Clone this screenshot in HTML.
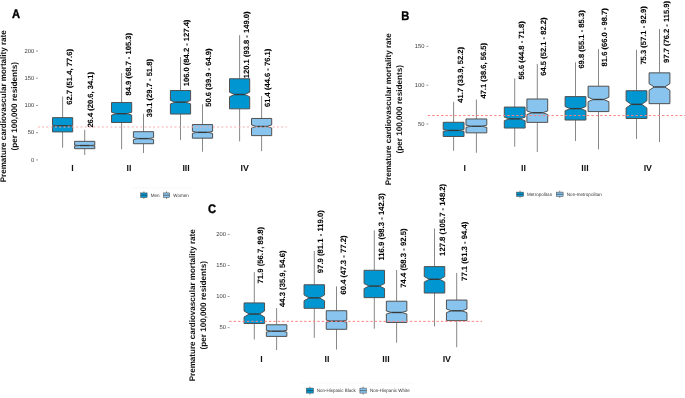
<!DOCTYPE html>
<html><head><meta charset="utf-8"><style>
html,body{margin:0;padding:0;background:#fff;}
body{width:685px;height:398px;overflow:hidden;}
svg{display:block;will-change:transform;}
text{font-family:"Liberation Sans",sans-serif;text-rendering:geometricPrecision;}
</style></head><body>
<svg width="685" height="398" viewBox="0 0 685 398">
<rect width="685" height="398" fill="#fff"/>
<g id="pA">
<line x1="132.3" y1="187.8" x2="191.3" y2="187.8" stroke="#f4f4f4" stroke-width="0.6"/>
<line x1="36.1" y1="159.9" x2="38" y2="159.9" stroke="#555" stroke-width="0.6"/>
<text x="34.2" y="161.7" font-size="5.8" fill="#3a3a3a" text-anchor="end">0</text>
<line x1="36.1" y1="132.68" x2="38" y2="132.68" stroke="#555" stroke-width="0.6"/>
<text x="34.2" y="134.48" font-size="5.8" fill="#3a3a3a" text-anchor="end">50</text>
<line x1="36.1" y1="105.45" x2="38" y2="105.45" stroke="#555" stroke-width="0.6"/>
<text x="34.2" y="107.25" font-size="5.8" fill="#3a3a3a" text-anchor="end">100</text>
<line x1="36.1" y1="78.23" x2="38" y2="78.23" stroke="#555" stroke-width="0.6"/>
<text x="34.2" y="80.03" font-size="5.8" fill="#3a3a3a" text-anchor="end">150</text>
<line x1="36.1" y1="51" x2="38" y2="51" stroke="#555" stroke-width="0.6"/>
<text x="34.2" y="52.8" font-size="5.8" fill="#3a3a3a" text-anchor="end">200</text>
<line x1="62.6" y1="96.5" x2="62.6" y2="117.65" stroke="#555" stroke-width="0.7"/>
<line x1="62.6" y1="131.91" x2="62.6" y2="147.7" stroke="#555" stroke-width="0.7"/>
<path d="M52.5,117.65 L72.7,117.65 L72.7,125.36 L67.65,125.76 L72.7,126.16 L72.7,131.91 L52.5,131.91 L52.5,126.16 L57.55,125.76 L52.5,125.36 Z" fill="#0096d2" stroke="#505050" stroke-width="1.0" stroke-linejoin="miter"/>
<line x1="57.55" y1="125.76" x2="67.65" y2="125.76" stroke="#383838" stroke-width="1.4"/>
<text transform="translate(71.5,104.8) rotate(-90)" font-size="7.6" font-weight="bold" fill="#000" stroke="#000" stroke-width="0.08">62.7 (51.4, 77.6)</text>
<line x1="84.7" y1="129.8" x2="84.7" y2="141.33" stroke="#555" stroke-width="0.7"/>
<line x1="84.7" y1="148.68" x2="84.7" y2="155" stroke="#555" stroke-width="0.7"/>
<path d="M74.6,141.33 L94.8,141.33 L94.8,145.13 L89.75,145.53 L94.8,145.93 L94.8,148.68 L74.6,148.68 L74.6,145.93 L79.65,145.53 L74.6,145.13 Z" fill="#88c4ed" stroke="#505050" stroke-width="1.0" stroke-linejoin="miter"/>
<line x1="79.65" y1="145.53" x2="89.75" y2="145.53" stroke="#383838" stroke-width="1.4"/>
<text transform="translate(93.1,127.6) rotate(-90)" font-size="7.6" font-weight="bold" fill="#000" stroke="#000" stroke-width="0.08">26.4 (20.6, 34.1)</text>
<line x1="121.6" y1="73.1" x2="121.6" y2="102.56" stroke="#555" stroke-width="0.7"/>
<line x1="121.6" y1="122.49" x2="121.6" y2="149.2" stroke="#555" stroke-width="0.7"/>
<path d="M111.5,102.56 L131.7,102.56 L131.7,112.27 L126.65,113.67 L131.7,115.07 L131.7,122.49 L111.5,122.49 L111.5,115.07 L116.55,113.67 L111.5,112.27 Z" fill="#0096d2" stroke="#505050" stroke-width="1.0" stroke-linejoin="miter"/>
<line x1="116.55" y1="113.67" x2="126.65" y2="113.67" stroke="#383838" stroke-width="1.4"/>
<text transform="translate(130.5,95.5) rotate(-90)" font-size="7.6" font-weight="bold" fill="#000" stroke="#000" stroke-width="0.08">84.9 (68.7 - 105.3)</text>
<line x1="143.5" y1="113.8" x2="143.5" y2="131.69" stroke="#555" stroke-width="0.7"/>
<line x1="143.5" y1="143.73" x2="143.5" y2="153" stroke="#555" stroke-width="0.7"/>
<path d="M133.4,131.69 L153.6,131.69 L153.6,137.61 L148.55,138.61 L153.6,139.61 L153.6,143.73 L133.4,143.73 L133.4,139.61 L138.45,138.61 L133.4,137.61 Z" fill="#88c4ed" stroke="#505050" stroke-width="1.0" stroke-linejoin="miter"/>
<line x1="138.45" y1="138.61" x2="148.55" y2="138.61" stroke="#383838" stroke-width="1.4"/>
<text transform="translate(151.9,117.3) rotate(-90)" font-size="7.6" font-weight="bold" fill="#000" stroke="#000" stroke-width="0.08">39.1 (29.7 - 51.8)</text>
<line x1="180.5" y1="57" x2="180.5" y2="90.53" stroke="#555" stroke-width="0.7"/>
<line x1="180.5" y1="114.05" x2="180.5" y2="139.9" stroke="#555" stroke-width="0.7"/>
<path d="M170.4,90.53 L190.6,90.53 L190.6,100.48 L185.55,102.18 L190.6,103.88 L190.6,114.05 L170.4,114.05 L170.4,103.88 L175.45,102.18 L170.4,100.48 Z" fill="#0096d2" stroke="#505050" stroke-width="1.0" stroke-linejoin="miter"/>
<line x1="175.45" y1="102.18" x2="185.55" y2="102.18" stroke="#383838" stroke-width="1.4"/>
<text transform="translate(189.4,86.3) rotate(-90)" font-size="7.6" font-weight="bold" fill="#000" stroke="#000" stroke-width="0.08">106.0 (84.2 - 127.4)</text>
<line x1="202.5" y1="104.2" x2="202.5" y2="124.56" stroke="#555" stroke-width="0.7"/>
<line x1="202.5" y1="138.17" x2="202.5" y2="151.7" stroke="#555" stroke-width="0.7"/>
<path d="M192.4,124.56 L212.6,124.56 L212.6,131.35 L207.55,132.35 L212.6,133.35 L212.6,138.17 L192.4,138.17 L192.4,133.35 L197.45,132.35 L192.4,131.35 Z" fill="#88c4ed" stroke="#505050" stroke-width="1.0" stroke-linejoin="miter"/>
<line x1="197.45" y1="132.35" x2="207.55" y2="132.35" stroke="#383838" stroke-width="1.4"/>
<text transform="translate(210.9,106.7) rotate(-90)" font-size="7.6" font-weight="bold" fill="#000" stroke="#000" stroke-width="0.08">50.6 (39.9 - 64.9)</text>
<line x1="239.6" y1="35.2" x2="239.6" y2="78.77" stroke="#555" stroke-width="0.7"/>
<line x1="239.6" y1="108.83" x2="239.6" y2="141.4" stroke="#555" stroke-width="0.7"/>
<path d="M229.5,78.77 L249.7,78.77 L249.7,92.21 L244.65,94.51 L249.7,96.81 L249.7,108.83 L229.5,108.83 L229.5,96.81 L234.55,94.51 L229.5,92.21 Z" fill="#0096d2" stroke="#505050" stroke-width="1.0" stroke-linejoin="miter"/>
<line x1="234.55" y1="94.51" x2="244.65" y2="94.51" stroke="#383838" stroke-width="1.4"/>
<text transform="translate(249.1,78.2) rotate(-90)" font-size="7.6" font-weight="bold" fill="#000" stroke="#000" stroke-width="0.08">120.1 (93.8 - 149.0)</text>
<line x1="261.6" y1="96.1" x2="261.6" y2="118.46" stroke="#555" stroke-width="0.7"/>
<line x1="261.6" y1="135.62" x2="261.6" y2="151.2" stroke="#555" stroke-width="0.7"/>
<path d="M251.5,118.46 L271.7,118.46 L271.7,124.97 L266.65,126.47 L271.7,127.97 L271.7,135.62 L251.5,135.62 L251.5,127.97 L256.55,126.47 L251.5,124.97 Z" fill="#88c4ed" stroke="#505050" stroke-width="1.0" stroke-linejoin="miter"/>
<line x1="256.55" y1="126.47" x2="266.65" y2="126.47" stroke="#383838" stroke-width="1.4"/>
<text transform="translate(270,107) rotate(-90)" font-size="7.6" font-weight="bold" fill="#000" stroke="#000" stroke-width="0.08">61.4 (44.6 - 76.1)</text>
<line x1="37.85" y1="127" x2="286.7" y2="127" stroke="#f6abab" stroke-width="1.2" stroke-dasharray="1.9,2.37"/>
<text x="72.4" y="170.6" font-size="8.8" font-weight="bold" fill="#111" text-anchor="middle">I</text>
<text x="129" y="170.6" font-size="8.8" font-weight="bold" fill="#111" text-anchor="middle">II</text>
<text x="186.1" y="170.6" font-size="8.8" font-weight="bold" fill="#111" text-anchor="middle">III</text>
<text x="244.7" y="170.6" font-size="8.8" font-weight="bold" fill="#111" text-anchor="middle">IV</text>
<text transform="translate(6.3,106.3) rotate(-90)" font-size="8.1" font-weight="bold" fill="#111" text-anchor="middle" textLength="152" lengthAdjust="spacingAndGlyphs">Premature cardiovascular mortality rate</text>
<text transform="translate(17.3,106.3) rotate(-90)" font-size="8.1" font-weight="bold" fill="#111" text-anchor="middle" textLength="88.5" lengthAdjust="spacingAndGlyphs">(per 100,000 residents)</text>
<text transform="translate(12,17.7) scale(0.9,1)" font-size="12.4" font-weight="bold" fill="#000" stroke="#000" stroke-width="0.35">A</text>
<line x1="143.9" y1="191.4" x2="143.9" y2="199" stroke="#444" stroke-width="0.6"/>
<rect x="140.7" y="192.9" width="6.4" height="4.6" fill="#0096d2" stroke="#444" stroke-width="0.5"/>
<line x1="140.7" y1="195.2" x2="147.1" y2="195.2" stroke="#333" stroke-width="0.6"/>
<line x1="166.55" y1="191.4" x2="166.55" y2="199" stroke="#444" stroke-width="0.6"/>
<rect x="163.5" y="192.9" width="6.1" height="4.6" fill="#88c4ed" stroke="#444" stroke-width="0.5"/>
<line x1="163.5" y1="195.2" x2="169.6" y2="195.2" stroke="#333" stroke-width="0.6"/>
<text x="150.7" y="196.8" font-size="4.7" fill="#333" textLength="8.9" lengthAdjust="spacingAndGlyphs">Men</text>
<text x="173.3" y="196.8" font-size="4.7" fill="#333" textLength="15.4" lengthAdjust="spacingAndGlyphs">Women</text>
</g>
<g id="pB">
<line x1="426.4" y1="124" x2="428.3" y2="124" stroke="#555" stroke-width="0.6"/>
<text x="424.5" y="125.8" font-size="5.8" fill="#3a3a3a" text-anchor="end">50</text>
<line x1="426.4" y1="85.2" x2="428.3" y2="85.2" stroke="#555" stroke-width="0.6"/>
<text x="424.5" y="87" font-size="5.8" fill="#3a3a3a" text-anchor="end">100</text>
<line x1="426.4" y1="46.4" x2="428.3" y2="46.4" stroke="#555" stroke-width="0.6"/>
<text x="424.5" y="48.2" font-size="5.8" fill="#3a3a3a" text-anchor="end">150</text>
<line x1="453.6" y1="101.8" x2="453.6" y2="122.29" stroke="#555" stroke-width="0.7"/>
<line x1="453.6" y1="136.49" x2="453.6" y2="150.8" stroke="#555" stroke-width="0.7"/>
<path d="M443.2,122.29 L464,122.29 L464,129.54 L458.8,130.44 L464,131.34 L464,136.49 L443.2,136.49 L443.2,131.34 L448.4,130.44 L443.2,129.54 Z" fill="#0096d2" stroke="#505050" stroke-width="1.0" stroke-linejoin="miter"/>
<line x1="448.4" y1="130.44" x2="458.8" y2="130.44" stroke="#383838" stroke-width="1.4"/>
<text transform="translate(463,102.7) rotate(-90)" font-size="7.6" font-weight="bold" fill="#000" stroke="#000" stroke-width="0.08">41.7 (33.9, 52.2)</text>
<line x1="476.4" y1="99.5" x2="476.4" y2="118.96" stroke="#555" stroke-width="0.7"/>
<line x1="476.4" y1="132.85" x2="476.4" y2="152.8" stroke="#555" stroke-width="0.7"/>
<path d="M466,118.96 L486.8,118.96 L486.8,125.15 L481.6,126.25 L486.8,127.35 L486.8,132.85 L466,132.85 L466,127.35 L471.2,126.25 L466,125.15 Z" fill="#88c4ed" stroke="#505050" stroke-width="1.0" stroke-linejoin="miter"/>
<line x1="471.2" y1="126.25" x2="481.6" y2="126.25" stroke="#383838" stroke-width="1.4"/>
<text transform="translate(485.8,98.6) rotate(-90)" font-size="7.6" font-weight="bold" fill="#000" stroke="#000" stroke-width="0.08">47.1 (38.6, 56.5)</text>
<line x1="514.7" y1="78.4" x2="514.7" y2="107.08" stroke="#555" stroke-width="0.7"/>
<line x1="514.7" y1="128.04" x2="514.7" y2="146.7" stroke="#555" stroke-width="0.7"/>
<path d="M504.3,107.08 L525.1,107.08 L525.1,117.13 L519.9,118.88 L525.1,120.63 L525.1,128.04 L504.3,128.04 L504.3,120.63 L509.5,118.88 L504.3,117.13 Z" fill="#0096d2" stroke="#505050" stroke-width="1.0" stroke-linejoin="miter"/>
<line x1="509.5" y1="118.88" x2="519.9" y2="118.88" stroke="#383838" stroke-width="1.4"/>
<text transform="translate(523.9,79.6) rotate(-90)" font-size="7.6" font-weight="bold" fill="#000" stroke="#000" stroke-width="0.08">56.6 (44.8 - 71.8)</text>
<line x1="537.3" y1="64.1" x2="537.3" y2="99.01" stroke="#555" stroke-width="0.7"/>
<line x1="537.3" y1="122.37" x2="537.3" y2="152" stroke="#555" stroke-width="0.7"/>
<path d="M526.9,99.01 L547.7,99.01 L547.7,111 L542.5,112.75 L547.7,114.5 L547.7,122.37 L526.9,122.37 L526.9,114.5 L532.1,112.75 L526.9,111 Z" fill="#88c4ed" stroke="#505050" stroke-width="1.0" stroke-linejoin="miter"/>
<line x1="532.1" y1="112.75" x2="542.5" y2="112.75" stroke="#383838" stroke-width="1.4"/>
<text transform="translate(546.2,75.7) rotate(-90)" font-size="7.6" font-weight="bold" fill="#000" stroke="#000" stroke-width="0.08">64.5 (52.1 - 82.2)</text>
<line x1="575.5" y1="62.3" x2="575.5" y2="96.61" stroke="#555" stroke-width="0.7"/>
<line x1="575.5" y1="120.04" x2="575.5" y2="141" stroke="#555" stroke-width="0.7"/>
<path d="M565.1,96.61 L585.9,96.61 L585.9,106.54 L580.7,108.64 L585.9,110.74 L585.9,120.04 L565.1,120.04 L565.1,110.74 L570.3,108.64 L565.1,106.54 Z" fill="#0096d2" stroke="#505050" stroke-width="1.0" stroke-linejoin="miter"/>
<line x1="570.3" y1="108.64" x2="580.7" y2="108.64" stroke="#383838" stroke-width="1.4"/>
<text transform="translate(584.4,68.6) rotate(-90)" font-size="7.6" font-weight="bold" fill="#000" stroke="#000" stroke-width="0.08">69.8 (55.1 - 85.3)</text>
<line x1="598.5" y1="49.1" x2="598.5" y2="86.21" stroke="#555" stroke-width="0.7"/>
<line x1="598.5" y1="111.58" x2="598.5" y2="149.3" stroke="#555" stroke-width="0.7"/>
<path d="M588.1,86.21 L608.9,86.21 L608.9,97.23 L603.7,99.48 L608.9,101.73 L608.9,111.58 L588.1,111.58 L588.1,101.73 L593.3,99.48 L588.1,97.23 Z" fill="#88c4ed" stroke="#505050" stroke-width="1.0" stroke-linejoin="miter"/>
<line x1="593.3" y1="99.48" x2="603.7" y2="99.48" stroke="#383838" stroke-width="1.4"/>
<text transform="translate(607.4,66.4) rotate(-90)" font-size="7.6" font-weight="bold" fill="#000" stroke="#000" stroke-width="0.08">81.6 (66.0 - 98.7)</text>
<line x1="636.5" y1="49.8" x2="636.5" y2="90.71" stroke="#555" stroke-width="0.7"/>
<line x1="636.5" y1="118.49" x2="636.5" y2="139" stroke="#555" stroke-width="0.7"/>
<path d="M626.1,90.71 L646.9,90.71 L646.9,100.77 L641.7,104.37 L646.9,107.97 L646.9,118.49 L626.1,118.49 L626.1,107.97 L631.3,104.37 L626.1,100.77 Z" fill="#0096d2" stroke="#505050" stroke-width="1.0" stroke-linejoin="miter"/>
<line x1="631.3" y1="104.37" x2="641.7" y2="104.37" stroke="#383838" stroke-width="1.4"/>
<text transform="translate(645.9,64.6) rotate(-90)" font-size="7.6" font-weight="bold" fill="#000" stroke="#000" stroke-width="0.08">75.3 (57.1 - 92.9)</text>
<line x1="659.5" y1="29" x2="659.5" y2="72.86" stroke="#555" stroke-width="0.7"/>
<line x1="659.5" y1="103.67" x2="659.5" y2="142" stroke="#555" stroke-width="0.7"/>
<path d="M649.1,72.86 L669.9,72.86 L669.9,83.68 L664.7,86.98 L669.9,90.28 L669.9,103.67 L649.1,103.67 L649.1,90.28 L654.3,86.98 L649.1,83.68 Z" fill="#88c4ed" stroke="#505050" stroke-width="1.0" stroke-linejoin="miter"/>
<line x1="654.3" y1="86.98" x2="664.7" y2="86.98" stroke="#383838" stroke-width="1.4"/>
<text transform="translate(668.9,63) rotate(-90)" font-size="7.6" font-weight="bold" fill="#000" stroke="#000" stroke-width="0.08">97.7 (76.2 - 115.9)</text>
<line x1="427.8" y1="115.55" x2="686" y2="115.55" stroke="#ff8282" stroke-width="1.0" stroke-dasharray="2.4,2.02"/>
<text x="464.7" y="170.8" font-size="8.8" font-weight="bold" fill="#111" text-anchor="middle">I</text>
<text x="523.5" y="170.8" font-size="8.8" font-weight="bold" fill="#111" text-anchor="middle">II</text>
<text x="585" y="170.8" font-size="8.8" font-weight="bold" fill="#111" text-anchor="middle">III</text>
<text x="647.8" y="170.8" font-size="8.8" font-weight="bold" fill="#111" text-anchor="middle">IV</text>
<text transform="translate(391.2,109.3) rotate(-90)" font-size="8.1" font-weight="bold" fill="#111" text-anchor="middle" textLength="152" lengthAdjust="spacingAndGlyphs">Premature cardiovascular mortality rate</text>
<text transform="translate(402.1,109.3) rotate(-90)" font-size="8.1" font-weight="bold" fill="#111" text-anchor="middle" textLength="88.5" lengthAdjust="spacingAndGlyphs">(per 100,000 residents)</text>
<text transform="translate(401.3,19.8) scale(0.9,1)" font-size="12.4" font-weight="bold" fill="#000" stroke="#000" stroke-width="0.35">B</text>
<line x1="520.05" y1="190.6" x2="520.05" y2="197.9" stroke="#444" stroke-width="0.6"/>
<rect x="516.6" y="192.1" width="6.9" height="4.3" fill="#0096d2" stroke="#444" stroke-width="0.5"/>
<line x1="516.6" y1="194.25" x2="523.5" y2="194.25" stroke="#333" stroke-width="0.6"/>
<line x1="559.75" y1="190.6" x2="559.75" y2="197.9" stroke="#444" stroke-width="0.6"/>
<rect x="556.4" y="192.1" width="6.7" height="4.3" fill="#88c4ed" stroke="#444" stroke-width="0.5"/>
<line x1="556.4" y1="194.25" x2="563.1" y2="194.25" stroke="#333" stroke-width="0.6"/>
<text x="527" y="195.9" font-size="4.7" fill="#333" textLength="25.2" lengthAdjust="spacingAndGlyphs">Metropolitan</text>
<text x="566.8" y="195.9" font-size="4.7" fill="#333" textLength="35" lengthAdjust="spacingAndGlyphs">Non-metropolitan</text>
</g>
<g id="pC">
<line x1="300" y1="383.1" x2="414" y2="383.1" stroke="#f4f4f4" stroke-width="0.6"/>
<line x1="227.7" y1="327.63" x2="229.6" y2="327.63" stroke="#555" stroke-width="0.6"/>
<text x="225.9" y="329.44" font-size="5.8" fill="#3a3a3a" text-anchor="end">50</text>
<line x1="227.7" y1="296.57" x2="229.6" y2="296.57" stroke="#555" stroke-width="0.6"/>
<text x="225.9" y="298.37" font-size="5.8" fill="#3a3a3a" text-anchor="end">100</text>
<line x1="227.7" y1="265.5" x2="229.6" y2="265.5" stroke="#555" stroke-width="0.6"/>
<text x="225.9" y="267.31" font-size="5.8" fill="#3a3a3a" text-anchor="end">150</text>
<line x1="227.7" y1="234.44" x2="229.6" y2="234.44" stroke="#555" stroke-width="0.6"/>
<text x="225.9" y="236.24" font-size="5.8" fill="#3a3a3a" text-anchor="end">200</text>
<line x1="254.3" y1="272.2" x2="254.3" y2="302.91" stroke="#555" stroke-width="0.7"/>
<line x1="254.3" y1="323.47" x2="254.3" y2="339.5" stroke="#555" stroke-width="0.7"/>
<path d="M244.05,302.91 L264.55,302.91 L264.55,311.03 L259.43,314.03 L264.55,317.03 L264.55,323.47 L244.05,323.47 L244.05,317.03 L249.18,314.03 L244.05,311.03 Z" fill="#0096d2" stroke="#505050" stroke-width="1.0" stroke-linejoin="miter"/>
<line x1="249.18" y1="314.03" x2="259.43" y2="314.03" stroke="#383838" stroke-width="1.4"/>
<text transform="translate(262.7,283.5) rotate(-90)" font-size="7.72" font-weight="bold" fill="#000" stroke="#000" stroke-width="0.08">71.9 (56.7, 89.8)</text>
<line x1="276.6" y1="308" x2="276.6" y2="324.78" stroke="#555" stroke-width="0.7"/>
<line x1="276.6" y1="336.4" x2="276.6" y2="350" stroke="#555" stroke-width="0.7"/>
<path d="M266.35,324.78 L286.85,324.78 L286.85,330.28 L281.73,331.18 L286.85,332.08 L286.85,336.4 L266.35,336.4 L266.35,332.08 L271.48,331.18 L266.35,330.28 Z" fill="#88c4ed" stroke="#505050" stroke-width="1.0" stroke-linejoin="miter"/>
<line x1="271.48" y1="331.18" x2="281.73" y2="331.18" stroke="#383838" stroke-width="1.4"/>
<text transform="translate(285,307.1) rotate(-90)" font-size="7.72" font-weight="bold" fill="#000" stroke="#000" stroke-width="0.08">44.3 (35.9, 54.6)</text>
<line x1="314.3" y1="250.9" x2="314.3" y2="284.77" stroke="#555" stroke-width="0.7"/>
<line x1="314.3" y1="308.31" x2="314.3" y2="337.9" stroke="#555" stroke-width="0.7"/>
<path d="M304.05,284.77 L324.55,284.77 L324.55,294.97 L319.43,297.87 L324.55,300.77 L324.55,308.31 L304.05,308.31 L304.05,300.77 L309.18,297.87 L304.05,294.97 Z" fill="#0096d2" stroke="#505050" stroke-width="1.0" stroke-linejoin="miter"/>
<line x1="309.18" y1="297.87" x2="319.43" y2="297.87" stroke="#383838" stroke-width="1.4"/>
<text transform="translate(323.2,273.2) rotate(-90)" font-size="7.72" font-weight="bold" fill="#000" stroke="#000" stroke-width="0.08">97.9 (81.1 - 119.0)</text>
<line x1="336.5" y1="286.4" x2="336.5" y2="310.74" stroke="#555" stroke-width="0.7"/>
<line x1="336.5" y1="329.31" x2="336.5" y2="349.6" stroke="#555" stroke-width="0.7"/>
<path d="M326.25,310.74 L346.75,310.74 L346.75,320.17 L341.62,321.17 L346.75,322.17 L346.75,329.31 L326.25,329.31 L326.25,322.17 L331.38,321.17 L326.25,320.17 Z" fill="#88c4ed" stroke="#505050" stroke-width="1.0" stroke-linejoin="miter"/>
<line x1="331.38" y1="321.17" x2="341.62" y2="321.17" stroke="#383838" stroke-width="1.4"/>
<text transform="translate(345.8,294.6) rotate(-90)" font-size="7.72" font-weight="bold" fill="#000" stroke="#000" stroke-width="0.08">60.4 (47.3 - 77.2)</text>
<line x1="374.3" y1="230.3" x2="374.3" y2="270.29" stroke="#555" stroke-width="0.7"/>
<line x1="374.3" y1="297.63" x2="374.3" y2="328.7" stroke="#555" stroke-width="0.7"/>
<path d="M364.05,270.29 L384.55,270.29 L384.55,283.57 L379.43,286.07 L384.55,288.57 L384.55,297.63 L364.05,297.63 L364.05,288.57 L369.18,286.07 L364.05,283.57 Z" fill="#0096d2" stroke="#505050" stroke-width="1.0" stroke-linejoin="miter"/>
<line x1="369.18" y1="286.07" x2="379.43" y2="286.07" stroke="#383838" stroke-width="1.4"/>
<text transform="translate(384,260.6) rotate(-90)" font-size="7.72" font-weight="bold" fill="#000" stroke="#000" stroke-width="0.08">116.9 (98.3 - 142.3)</text>
<line x1="396.6" y1="270" x2="396.6" y2="301.23" stroke="#555" stroke-width="0.7"/>
<line x1="396.6" y1="322.48" x2="396.6" y2="342.7" stroke="#555" stroke-width="0.7"/>
<path d="M386.35,301.23 L406.85,301.23 L406.85,310.98 L401.73,312.48 L406.85,313.98 L406.85,322.48 L386.35,322.48 L386.35,313.98 L391.48,312.48 L386.35,310.98 Z" fill="#88c4ed" stroke="#505050" stroke-width="1.0" stroke-linejoin="miter"/>
<line x1="391.48" y1="312.48" x2="401.73" y2="312.48" stroke="#383838" stroke-width="1.4"/>
<text transform="translate(406,287.7) rotate(-90)" font-size="7.72" font-weight="bold" fill="#000" stroke="#000" stroke-width="0.08">74.4 (58.3 - 92.5)</text>
<line x1="434.5" y1="228.5" x2="434.5" y2="266.62" stroke="#555" stroke-width="0.7"/>
<line x1="434.5" y1="293.03" x2="434.5" y2="326.4" stroke="#555" stroke-width="0.7"/>
<path d="M424.25,266.62 L444.75,266.62 L444.75,276.6 L439.62,279.3 L444.75,282 L444.75,293.03 L424.25,293.03 L424.25,282 L429.38,279.3 L424.25,276.6 Z" fill="#0096d2" stroke="#505050" stroke-width="1.0" stroke-linejoin="miter"/>
<line x1="429.38" y1="279.3" x2="439.62" y2="279.3" stroke="#383838" stroke-width="1.4"/>
<text transform="translate(445.2,255.9) rotate(-90)" font-size="7.72" font-weight="bold" fill="#000" stroke="#000" stroke-width="0.08">127.8 (105.7 - 148.2)</text>
<line x1="456.7" y1="272.9" x2="456.7" y2="300.05" stroke="#555" stroke-width="0.7"/>
<line x1="456.7" y1="320.61" x2="456.7" y2="347.3" stroke="#555" stroke-width="0.7"/>
<path d="M446.45,300.05 L466.95,300.05 L466.95,309 L461.82,310.8 L466.95,312.6 L466.95,320.61 L446.45,320.61 L446.45,312.6 L451.57,310.8 L446.45,309 Z" fill="#88c4ed" stroke="#505050" stroke-width="1.0" stroke-linejoin="miter"/>
<line x1="451.57" y1="310.8" x2="461.82" y2="310.8" stroke="#383838" stroke-width="1.4"/>
<text transform="translate(466.8,280.9) rotate(-90)" font-size="7.72" font-weight="bold" fill="#000" stroke="#000" stroke-width="0.08">77.1 (61.3 - 94.4)</text>
<line x1="229.2" y1="321.35" x2="482" y2="321.35" stroke="#ff8282" stroke-width="1.0" stroke-dasharray="2.4,2.01"/>
<text x="261.6" y="362" font-size="8.8" font-weight="bold" fill="#111" text-anchor="middle">I</text>
<text x="326.9" y="362" font-size="8.8" font-weight="bold" fill="#111" text-anchor="middle">II</text>
<text x="386" y="362" font-size="8.8" font-weight="bold" fill="#111" text-anchor="middle">III</text>
<text x="446.8" y="362" font-size="8.8" font-weight="bold" fill="#111" text-anchor="middle">IV</text>
<text transform="translate(194.7,305.3) rotate(-90)" font-size="8.1" font-weight="bold" fill="#111" text-anchor="middle" textLength="152" lengthAdjust="spacingAndGlyphs">Premature cardiovascular mortality rate</text>
<text transform="translate(206,305.3) rotate(-90)" font-size="8.1" font-weight="bold" fill="#111" text-anchor="middle" textLength="88.5" lengthAdjust="spacingAndGlyphs">(per 100,000 residents)</text>
<text transform="translate(207.9,212.9) scale(0.9,1)" font-size="12.4" font-weight="bold" fill="#000" stroke="#000" stroke-width="0.35">C</text>
<line x1="309.9" y1="386.6" x2="309.9" y2="394.6" stroke="#444" stroke-width="0.6"/>
<rect x="306.4" y="388.1" width="7" height="5" fill="#0096d2" stroke="#444" stroke-width="0.5"/>
<line x1="306.4" y1="390.6" x2="313.4" y2="390.6" stroke="#333" stroke-width="0.6"/>
<line x1="363.1" y1="386.6" x2="363.1" y2="394.6" stroke="#444" stroke-width="0.6"/>
<rect x="359.9" y="388.1" width="6.4" height="5" fill="#88c4ed" stroke="#444" stroke-width="0.5"/>
<line x1="359.9" y1="390.6" x2="366.3" y2="390.6" stroke="#333" stroke-width="0.6"/>
<text x="316.8" y="392.3" font-size="4.7" fill="#333" textLength="38.9" lengthAdjust="spacingAndGlyphs">Non-Hispanic Black</text>
<text x="369.9" y="392.3" font-size="4.7" fill="#333" textLength="39.9" lengthAdjust="spacingAndGlyphs">Non-Hispanic White</text>
</g>
</svg>
</body></html>
